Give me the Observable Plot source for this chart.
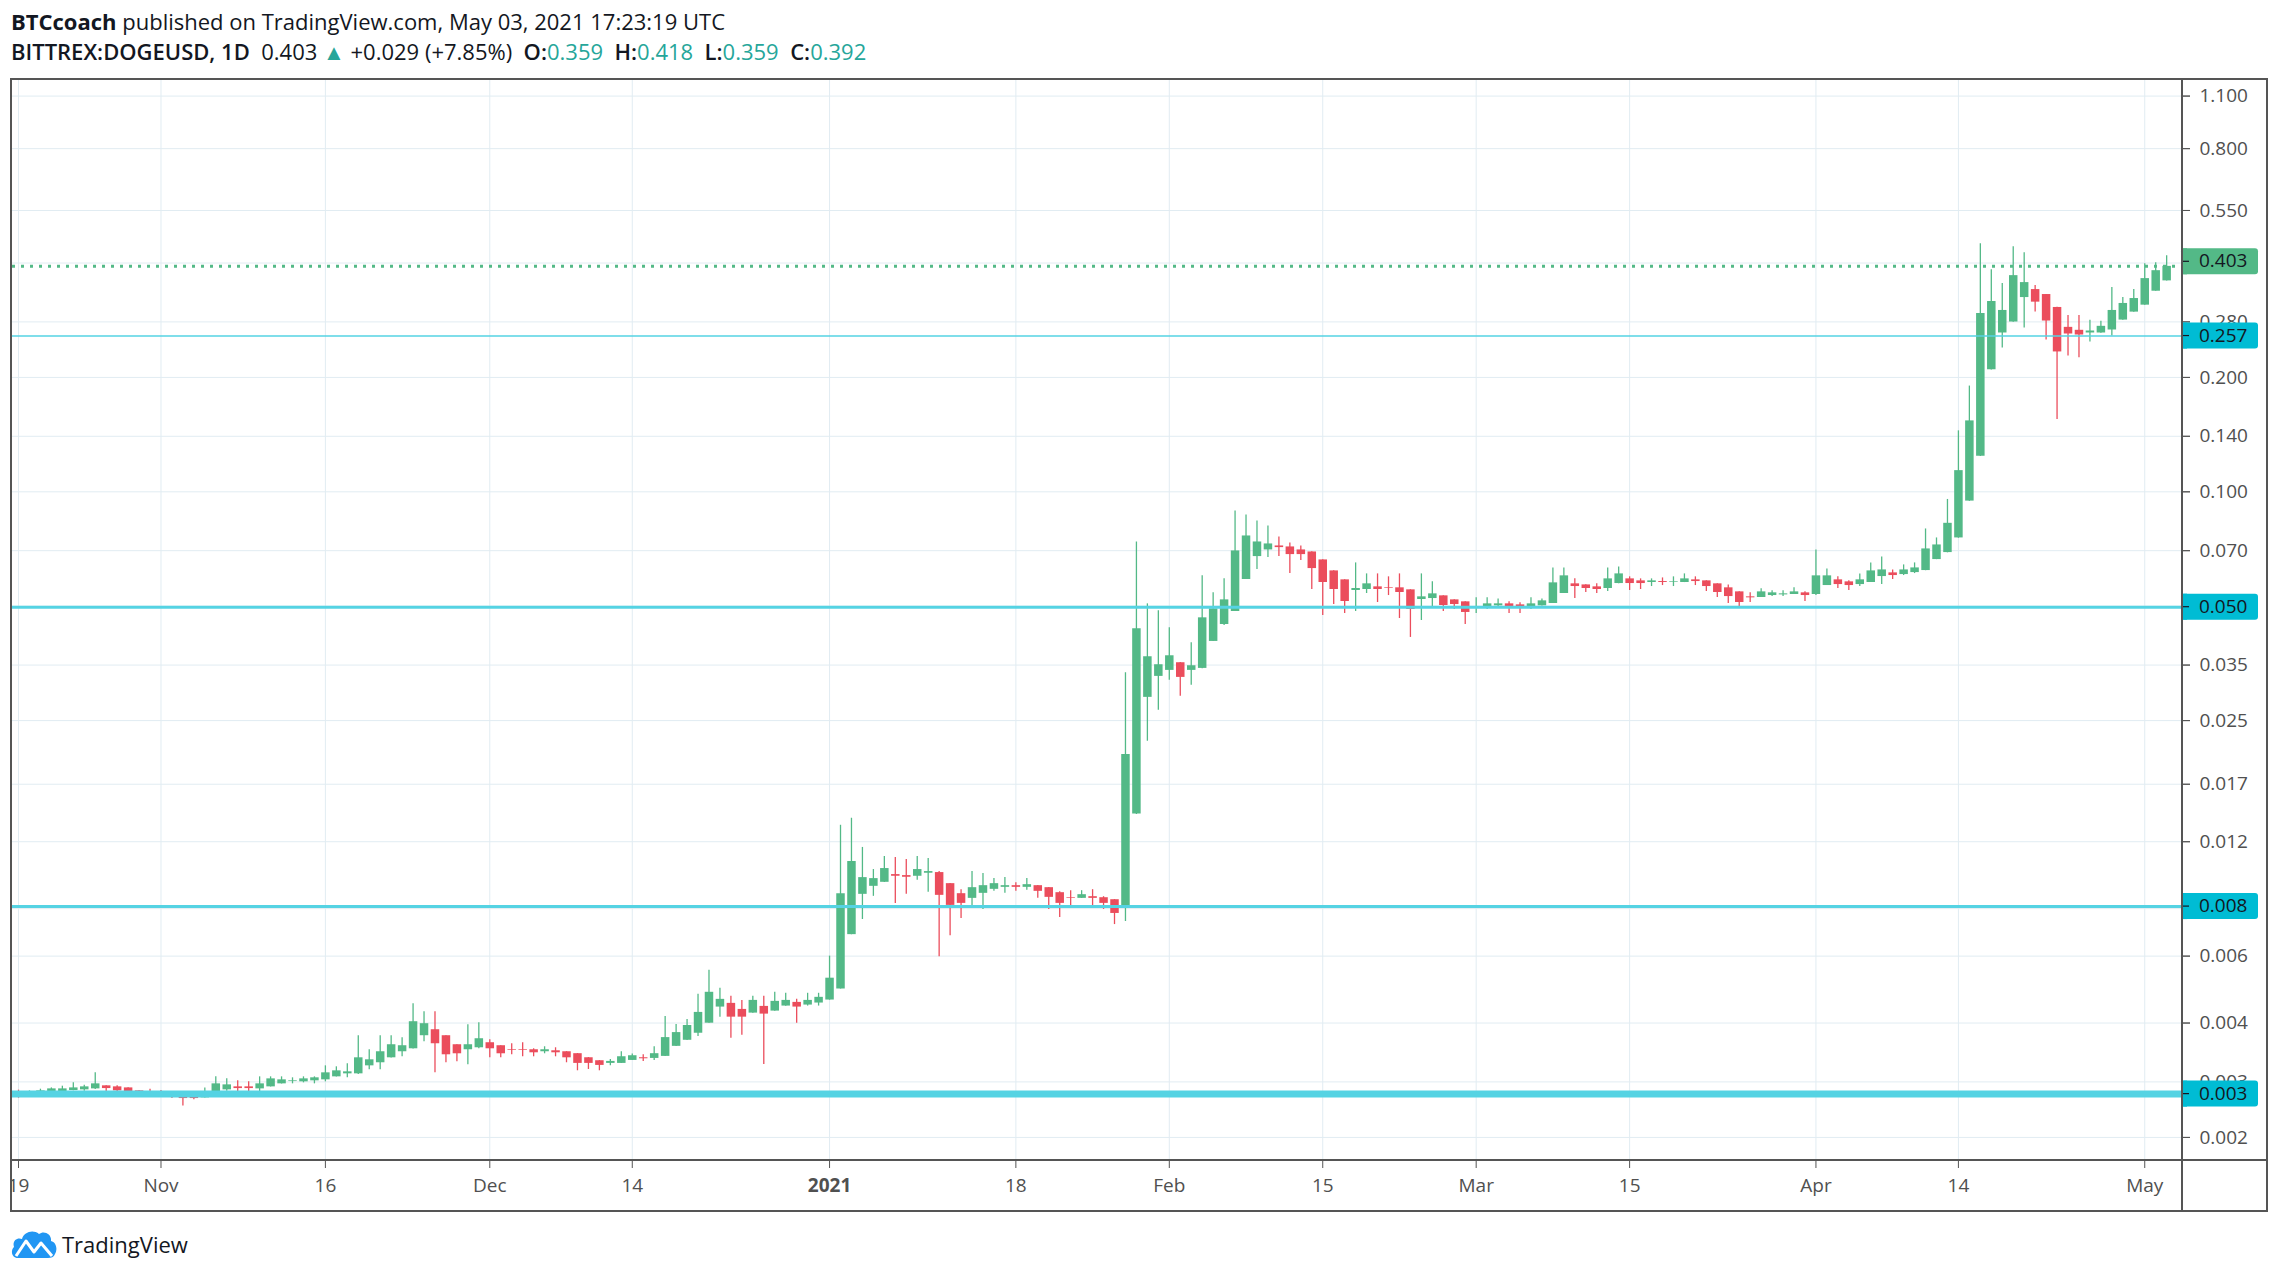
<!DOCTYPE html>
<html>
<head>
<meta charset="utf-8">
<script src="https://cdn.jsdelivr.net/npm/d3@7"></script>
<script src="https://cdn.jsdelivr.net/npm/@observablehq/plot@0.6"></script>
<style>
  html, body { margin: 0; padding: 0; background: #fff; }
  body { width: 2280px; height: 1278px; position: relative; overflow: hidden; font-family: "Open Sans", sans-serif; color: #131722; }
  .hdr { position: absolute; left: 11px; font-size: 22px; white-space: nowrap; line-height: 28px; }
  .teal { color: #26a69a; }
  .sb { font-weight: 600; }
  #frame { position: absolute; left: 10px; top: 78px; width: 2254px; height: 1130px; border: 2px solid #555; overflow: hidden; background: #fff; }
  #vdiv { position: absolute; left: 2181px; top: 80px; width: 2px; height: 1130px; background: #555; }
  #hdiv { position: absolute; left: 12px; top: 1159px; width: 2254px; height: 2px; background: #555; }
  #logo { position: absolute; left: 11px; top: 1229px; display: flex; align-items: center; gap: 5px; font-size: 22px; color: #131722; }
</style>
</head>
<body>
<div class="hdr" id="h1" style="top:7px"></div>
<div class="hdr" id="h2" style="top:37px"></div>
<div id="frame"></div>
<div id="vdiv"></div>
<div id="hdiv"></div>
<div id="logo">
  <svg width="46" height="30" viewBox="0 0 46 30">
    <path d="M7 29 C1 29 -1 22 3 18 C1 12 6 8 11 10 C13 3 22 0 28 5 C33 1 41 5 40 12 C45 13 47 20 44 25 C43 28 40 29 37 29 Z" fill="#2196f3"/>
    <polyline points="5,27 15,12 23,23 30,14 41,27" fill="none" stroke="#fff" stroke-width="3" stroke-linejoin="round"/>
  </svg>
  <span>TradingView</span>
</div>
<script>
// ---------------- data ----------------
const startDate = "2020-10-19"; // first daily candle, one candle per day
const opens = [
  .002625,.002615,.002609,.002625,.002641,.002657,.002668,.002684,.002734,.002717,
  .002700,.002652,.002625,.002625,.002604,.002588,.002573,.002542,.002578,.002668,
  .002717,.002717,.002684,.002717,.002767,.002806,.002801,.002818,.002835,.002887,
  .002940,.002940,.003086,.003144,.003240,.003361,.003422,.003704,.003841,.003704,
  .003507,.003402,.003443,.003550,.003486,.003402,.003402,.003402,.003361,.003381,
  .003361,.003322,.003241,.003183,.003132,.003132,.003189,.003241,.003228,.003268,
  .003473,.003603,.003760,.003996,.004406,.004506,.004344,.004248,.004424,.004300,
  .004433,.004533,.004460,.004515,.004598,.004918,.006834,.008724,.009158,.009384,
  .009834,.009774,.009734,.009914,.009954,.009308,.008759,.008514,.008777,.008993,
  .009102,.009195,.009102,.009195,.009084,.008812,.008548,.008514,.008601,.008548,
  .008445,.008130,.01419,.02878,.03268,.03389,.03550,.03389,.03430,.04039,
  .04476,.04843,.05878,.06754,.07032,.07204,.07161,.07032,.06946,.06619,
  .06193,.05866,.05499,.05532,.05622,.05589,.05589,.05521,.05207,.05238,
  .05324,.05196,.05134,.04961,.04961,.05011,.05072,.05041,.04980,.05011,
  .05082,.05400,.05726,.05689,.05622,.05566,.05736,.05901,.05830,.05772,
  .05806,.05783,.05772,.05866,.05830,.05726,.05589,.05454,.05292,.05270,
  .05334,.05355,.05367,.05422,.05367,.05667,.05866,.05795,.05701,.05772,
  .05984,.06119,.06057,.06130,.06206,.06633,.06920,.07562,.09453,.1240,
  .2095,.2618,.2798,.3245,.3406,.3305,.3056,.2709,.2661,.2618,
  .2618,.2666,.2831,.2971,.3099,.3372,.359
];
const highs = [
  .002663,.002652,.002679,.002700,.002728,.002784,.002745,.002958,.002737,.002734,
  .002703,.002655,.002679,.002657,.002636,.002636,.002588,.002700,.002887,.002852,
  .002818,.002801,.002887,.002887,.002887,.002870,.002887,.002887,.003086,.003068,
  .003125,.003704,.003402,.003704,.003704,.003659,.004499,.004285,.004285,.003706,
  .003509,.003960,.004008,.003615,.003488,.003528,.003550,.003422,.003464,.003443,
  .003363,.003325,.003245,.003186,.003208,.003362,.003315,.003301,.003466,.004162,
  .003964,.004086,.004761,.005510,.004938,.004703,.004588,.004703,.004703,.004819,
  .004790,.004617,.004790,.004790,.006000,.013258,.013835,.011592,.010138,.010974,
  .010908,.010775,.010974,.010841,.010015,.009310,.008974,.010015,.009894,.009597,
  .009655,.009366,.009597,.009200,.009090,.008866,.008919,.008919,.008974,.008601,
  .008450,.03341,.07380,.05072,.04862,.04387,.03555,.04006,.06010,.05422,
  .05901,.08903,.08690,.08380,.08129,.07607,.07336,.07204,.06950,.06625,
  .06200,.05870,.06500,.06082,.06082,.05974,.06082,.05525,.06082,.05795,
  .05330,.05200,.05140,.05260,.05260,.05227,.05134,.05103,.05260,.05227,
  .06306,.06306,.05901,.05692,.05726,.06306,.06344,.05974,.05901,.05901,
  .05935,.05974,.06082,.05974,.05833,.05730,.05689,.05457,.05422,.05555,
  .05487,.05487,.05589,.05454,.07032,.06269,.05974,.05830,.06082,.06500,
  .06740,.06230,.06422,.06500,.07985,.07562,.09548,.1447,.1898,.4495,
  .3843,.3532,.4415,.4258,.3489,.3308,.3060,.2912,.2912,.2826,
  .2809,.3447,.3245,.3406,.3985,.4009,.418
];
const lows = [
  .002537,.002573,.002605,.002620,.002636,.002655,.002647,.002673,.002636,.002594,
  .002547,.002557,.002573,.002568,.002531,.002421,.002511,.002540,.002575,.002647,
  .002636,.002625,.002625,.002715,.002765,.002767,.002784,.002767,.002801,.002885,
  .002870,.002928,.003013,.003013,.003238,.003260,.003420,.003572,.002958,.003144,
  .003163,.003105,.003422,.003240,.003240,.003300,.003260,.003260,.003320,.003260,
  .003144,.002995,.003019,.002995,.003088,.003130,.003187,.003170,.003189,.003266,
  .003470,.003600,.003684,.003993,.004145,.003647,.003714,.004245,.003113,.004297,
  .004430,.003996,.004433,.004433,.004595,.004915,.006830,.007490,.008619,.009380,
  .008259,.008724,.009499,.008830,.005973,.006793,.007536,.008159,.007962,.008884,
  .008777,.008884,.008937,.008514,.007962,.007583,.008110,.008510,.008011,.007962,
  .007264,.0074,.01415,.02206,.02661,.03191,.02896,.03095,.03425,.04035,
  .04449,.04840,.05875,.06243,.06714,.06754,.06094,.06593,.05532,.04726,
  .05051,.04784,.04843,.05400,.05113,.05334,.04641,.04138,.04585,.04961,
  .04843,.04901,.04476,.04784,.04901,.04991,.04784,.04784,.04901,.05008,
  .05080,.05398,.05238,.05433,.05400,.05464,.05733,.05499,.05532,.05633,
  .05667,.05633,.05770,.05667,.05464,.05270,.05082,.04961,.05113,.05268,
  .05301,.05301,.05365,.05144,.05334,.05665,.05566,.05499,.05633,.05770,
  .05701,.05878,.06021,.06094,.06200,.06630,.06910,.0755,.0944,.1238,
  .2093,.2392,.2795,.2698,.2971,.2510,.1550,.2279,.2252,.2480,
  .2615,.2571,.2828,.2968,.3096,.3370,.359
];
const closes = [
  .002604,.002625,.002652,.002684,.002684,.002700,.002717,.002767,.002689,.002652,
  .002594,.002594,.002604,.002594,.002557,.002531,.002531,.002636,.002767,.002750,
  .002689,.002689,.002767,.002852,.002835,.002818,.002852,.002870,.002958,.002994,
  .002976,.003240,.003201,.003361,.003507,.003486,.004032,.003984,.003528,.003300,
  .003320,.003507,.003637,.003422,.003320,.003388,.003388,.003340,.003402,.003340,
  .003240,.003132,.003132,.003094,.003170,.003261,.003281,.003221,.003322,.003662,
  .003775,.003940,.004266,.004819,.004617,.004145,.004145,.004588,.004222,.004561,
  .004588,.004406,.004588,.004674,.005249,.008759,.010644,.009655,.009597,.010200,
  .009734,.009675,.010138,.010015,.008671,.008159,.008259,.009084,.009195,.009308,
  .009195,.009102,.009251,.008884,.008566,.008259,.008514,.008706,.008514,.008259,
  .007770,.02035,.04360,.03681,.03507,.03703,.03248,.03486,.04660,.04921,
  .05196,.06990,.07653,.07380,.07292,.07132,.06836,.06836,.06281,.05772,
  .05532,.05144,.05566,.05726,.05532,.05566,.05433,.04901,.05292,.05389,
  .05021,.05051,.04814,.04991,.05072,.05072,.04991,.04961,.05072,.05165,
  .05760,.06010,.05633,.05566,.05532,.05901,.06082,.05736,.05736,.05830,
  .05772,.05806,.05901,.05806,.05633,.05433,.05301,.05113,.05260,.05454,
  .05422,.05389,.05454,.05334,.06010,.06010,.05701,.05667,.05866,.06193,
  .06230,.06021,.06230,.06306,.07075,.07248,.08263,.1137,.1537,.2948,
  .3168,.3001,.3706,.3553,.3156,.2815,.2334,.2602,.2586,.2650,
  .2726,.3001,.3131,.3226,.3640,.3819,.392
];

// price-axis grid values; those whose label is fully covered by a price box are not printed
const yTicks = [1.1, 0.8, 0.55, 0.4, 0.28, 0.2, 0.14, 0.1, 0.07, 0.05, 0.035, 0.025, 0.017, 0.012, 0.008, 0.006, 0.004, 0.0028, 0.002];
const yCovered = [0.4, 0.05, 0.008];
// time-axis ticks and labels
const xTickDates = ["2020-10-19","2020-11-01","2020-11-16","2020-12-01","2020-12-14","2021-01-01","2021-01-18","2021-02-01","2021-02-15","2021-03-01","2021-03-15","2021-04-01","2021-04-14","2021-05-01"];
const xTickLabels = ["19","Nov","16","Dec","14","2021","18","Feb","15","Mar","15","Apr","14","May"];
const boldTick = "2021-01-01";

// horizontal levels drawn on the chart and their axis labels
const levelValues = [0.257, 0.0497, 0.0081, 0.0026];
const levelLabels = ["0.257", "0.050", "0.008", "0.003"];
// last price shown on the axis
const lastPrice = 0.403;
const lastChange = 0.029;
const lastChangePct = 7.85;

// ---------------- styles ----------------
const UP = "#53b987", DOWN = "#eb4d5c", LEVEL = "#55d3e3", BOX = "#00bcd4";
const levelStroke = [1.5, 3, 3, 7];
const GRID = "#e1ecf2";

// ---------------- header ----------------
const n = opens.length;
const f3 = d3.format(".3f");
document.getElementById("h1").innerHTML =
  '<b>BTCcoach</b> published on TradingView.com, May 03, 2021 17:23:19 UTC';
document.getElementById("h2").innerHTML =
  '<span class="sb">BITTREX:DOGEUSD, 1D</span>&nbsp; ' + f3(lastPrice) +
  ' <span class="teal">▲</span> +' + f3(lastChange) + ' (+' + lastChangePct.toFixed(2) + '%)&nbsp; ' +
  '<span class="sb">O:</span><span class="teal">' + f3(opens[n-1]) + '</span>&nbsp; ' +
  '<span class="sb">H:</span><span class="teal">' + f3(highs[n-1]) + '</span>&nbsp; ' +
  '<span class="sb">L:</span><span class="teal">' + f3(lows[n-1]) + '</span>&nbsp; ' +
  '<span class="sb">C:</span><span class="teal">' + f3(closes[n-1]) + '</span>';

// ---------------- chart ----------------
const t0 = new Date(startDate);
const candles = opens.map((o, i) => ({
  date: d3.utcDay.offset(t0, i), open: o, high: highs[i], low: lows[i], close: closes[i]
}));
const up = candles.filter(d => d.close >= d.open);
const down = candles.filter(d => d.close < d.open);

const tickDates = xTickDates.map(s => new Date(s));
const labelOf = new Map(tickDates.map((d, i) => [+d, xTickLabels[i]]));
const normalTicks = tickDates.filter(d => +d !== +new Date(boldTick));
const boldTicks = tickDates.filter(d => +d === +new Date(boldTick));
const yLabelTicks = yTicks.filter(v => !yCovered.includes(v));

const W = 2254, H = 1130;
const axisStyle = {tickSize: 8, tickPadding: 10, stroke: "#555", fill: "#505050", fontSize: 19};

const chart = Plot.plot({
  width: W, height: H,
  marginLeft: 0, marginRight: 85, marginTop: 0, marginBottom: 50,
  style: {background: "white", overflow: "hidden", fontFamily: "'Open Sans', sans-serif", fontSize: "19px"},
  x: {type: "utc", domain: [new Date(Date.UTC(2020, 9, 18, 10, 50)), new Date(Date.UTC(2021, 4, 4, 8, 30))]},
  y: {type: "log", domain: [0.001739, 1.209]},
  marks: [
    Plot.gridY(yTicks, {stroke: GRID, strokeOpacity: 1}),
    Plot.gridX(tickDates, {stroke: GRID, strokeOpacity: 1}),
    Plot.ruleX(up, {x: "date", y1: "low", y2: "high", stroke: UP, strokeWidth: 1.3}),
    Plot.ruleX(down, {x: "date", y1: "low", y2: "high", stroke: DOWN, strokeWidth: 1.3}),
    Plot.ruleX(up, {x: "date", y1: "open", y2: "close", stroke: UP, strokeWidth: 8.5}),
    Plot.ruleX(down, {x: "date", y1: "open", y2: "close", stroke: DOWN, strokeWidth: 8.5}),
    Plot.ruleY(levelValues, {y: d => d, stroke: LEVEL, strokeWidth: (d, i) => levelStroke[i]}),
    Plot.ruleY([closes[n-1]], {stroke: UP, strokeWidth: 3, strokeDasharray: "3,6"}),
    Plot.axisY(yTicks, {anchor: "right", tickSize: 8, stroke: "#555", text: null}),
    Plot.axisY(yLabelTicks, {anchor: "right", tickFormat: f3, ...axisStyle}),
    Plot.axisX(normalTicks, {anchor: "bottom", tickFormat: d => labelOf.get(+d), ...axisStyle}),
    Plot.axisX(boldTicks, {anchor: "bottom", tickFormat: d => labelOf.get(+d), fontWeight: "bold", ...axisStyle})
  ]
});
document.getElementById("frame").appendChild(chart);

// price label boxes on the right axis
const ys = chart.scale("y");
const x0 = chart.scale("x").range[1];
const svg = d3.select(chart);
const boxVals = [lastPrice, ...levelValues];
const boxLabs = [f3(lastPrice), ...levelLabels];
boxVals.forEach((v, i) => {
  const yy = ys.apply(v);
  const col = i === 0 ? UP : BOX;
  const g = svg.append("g");
  g.append("rect").attr("x", x0).attr("y", yy - 13).attr("width", 77).attr("height", 26).attr("rx", 3).attr("fill", col);
  g.append("rect").attr("x", x0).attr("y", yy - 13).attr("width", 6).attr("height", 26).attr("fill", col);
  g.append("line").attr("x1", x0).attr("x2", x0 + 8).attr("y1", yy).attr("y2", yy).attr("stroke", "#131722").attr("stroke-width", 1.2);
  g.append("text").attr("x", x0 + 18).attr("y", yy).attr("dy", "0.32em").attr("text-anchor", "start")
    .attr("font-size", 19).attr("fill", "#131722").text(boxLabs[i]);
});
</script>
</body>
</html>
